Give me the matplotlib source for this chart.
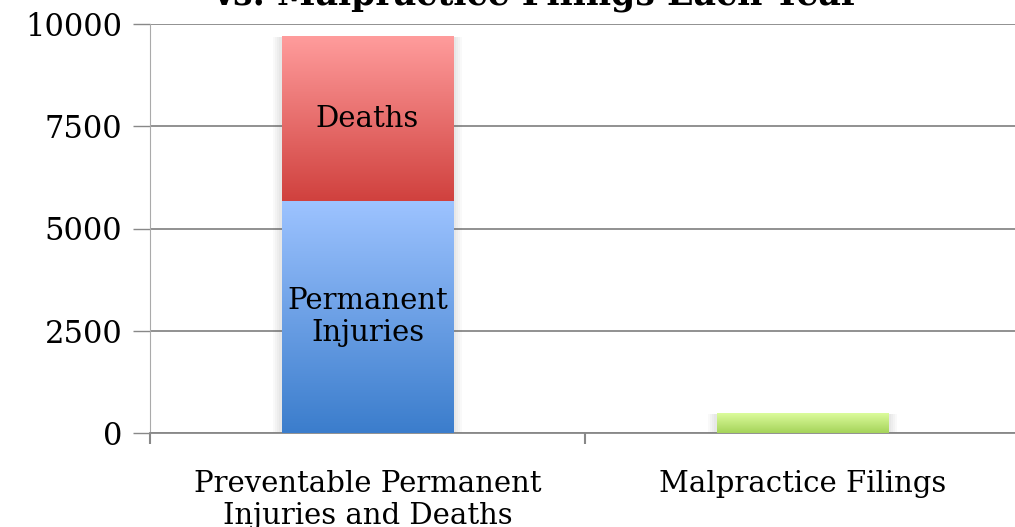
import numpy as np
import matplotlib
matplotlib.use("Agg")
import matplotlib.pyplot as plt
from matplotlib.colors import LinearSegmentedColormap

# data
categories = ["Preventable Permanent\nInjuries and Deaths", "Malpractice Filings"]
injuries = [5670, 0]
deaths = [4010, 0]
filings = [0, 470]
yticks = [0, 2500, 5000, 7500, 10000]

plt.rcParams['font.family'] = ['DejaVu Serif']

fig = plt.figure(figsize=(10.15, 5.27), dpi=100)
ax = fig.add_axes([150/1015, 1-433/527, 870/1015, 409/527])

x = np.arange(len(categories))
w = 0.395


def shadow(ax, xc, height):
    # soft shadow around the whole bar
    for i in range(4):
        d = 0.01 * (i + 1)
        ax.bar(xc, height + 25 * (i + 1), w + d, bottom=-25 * (i + 1),
               color='#555555', alpha=0.035, zorder=2, linewidth=0)


def grad_bar(ax, xc, bottom, height, top_col, bot_col):
    if height <= 0:
        return
    cmap = LinearSegmentedColormap.from_list('g', [bot_col, top_col])
    grad = np.linspace(0, 1, 256).reshape(-1, 1)
    ax.imshow(grad, extent=[xc - w/2, xc + w/2, bottom, bottom + height],
              origin='lower', aspect='auto', cmap=cmap, zorder=3)


shadow(ax, x[0], injuries[0] + deaths[0])
shadow(ax, x[1], filings[1])
grad_bar(ax, x[0], 0, injuries[0], '#9DC3FF', '#3B7DCC')
grad_bar(ax, x[0], injuries[0], deaths[0], '#FF9C9C', '#D0413E')
grad_bar(ax, x[1], 0, filings[1], '#DCFC9C', '#A5D35A')

ax.text(x[0], injuries[0] + deaths[0]/2, "Deaths", ha='center', va='center',
        fontsize=21, zorder=5)
ax.text(x[0], injuries[0]/2, "Permanent\nInjuries", ha='center', va='center',
        fontsize=21, zorder=5, linespacing=1.15)

ax.set_xlim(-0.5, 1.5)
ax.set_ylim(0, 10000)
ax.set_yticks(yticks)
ax.set_yticklabels([str(v) for v in yticks], fontsize=22)
ax.set_xticks(x)
ax.set_xticklabels(categories, fontsize=21, linespacing=1.15)
ax.tick_params(axis='x', length=0, pad=27)
ax.set_xticks([-0.5, 0.5, 1.5], minor=True)
ax.tick_params(axis='x', which='minor', length=8, width=1.5, color='#888888', direction='out')
ax.tick_params(axis='y', length=12, width=1, color='#888888', pad=8)
ax.grid(axis='y', color='#888888', linewidth=1.3, zorder=0)
ax.set_axisbelow(True)
for s in ['top', 'right']:
    ax.spines[s].set_visible(False)
ax.spines['left'].set_color('#aaaaaa')
ax.spines['bottom'].set_color('#888888')
ax.spines['bottom'].set_linewidth(1.3)

fig.text(537/1015, 1 - 5/527, "vs. Malpractice Filings Each Year", ha='center',
         va='baseline', fontsize=25, fontweight='bold')

fig.savefig("out.png", dpi=100)
